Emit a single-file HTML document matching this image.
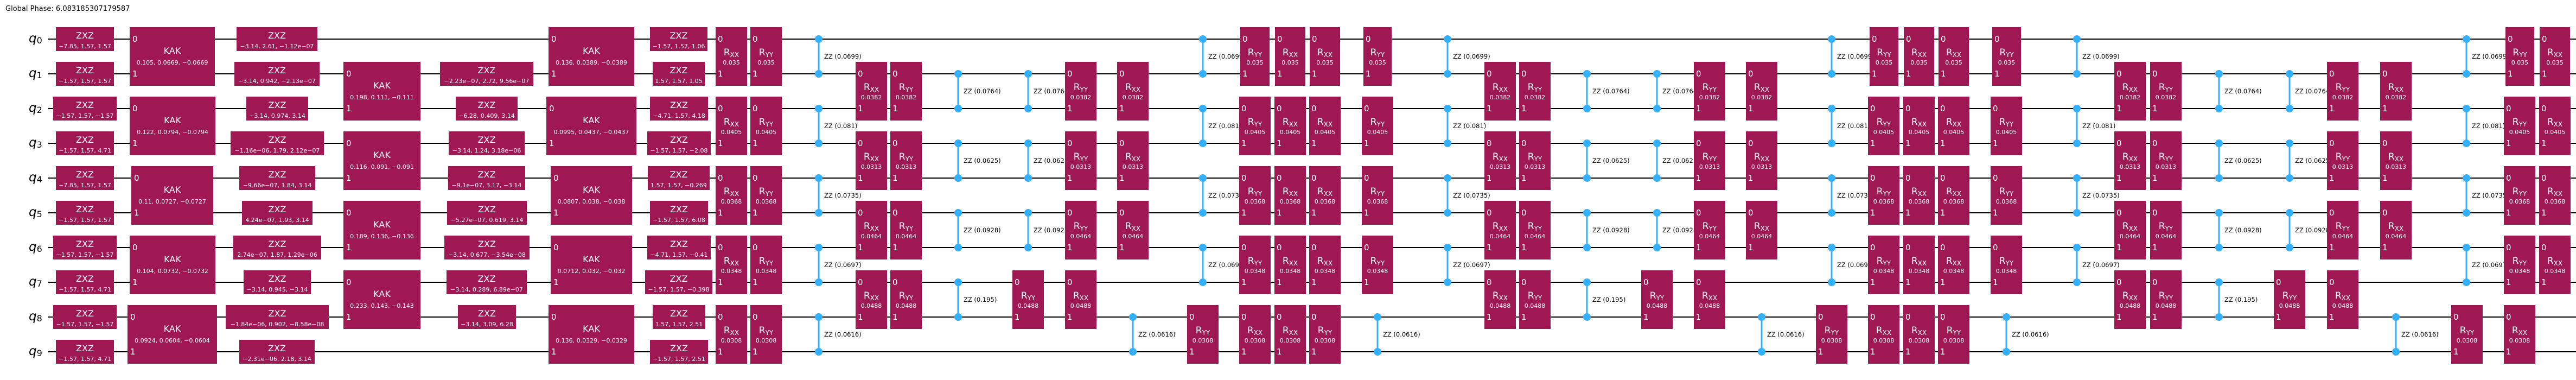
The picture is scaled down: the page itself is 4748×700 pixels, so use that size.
<!DOCTYPE html>
<html><head><meta charset="utf-8"><style>
html,body{margin:0;padding:0;background:#fff}
svg{display:block}
text{font-family:"DejaVu Sans","Liberation Sans",sans-serif;fill:#fff}
.b{fill:#9f1853}
.n{font-size:15px}
.l{font-size:17px;text-anchor:middle}
.s{font-size:12px}
.p{font-size:11px;text-anchor:middle}
.k{font-size:16px;text-anchor:middle}
.zl{fill:#000;font-size:11.5px}
.w{stroke:#000;stroke-width:2}
.zz{stroke:#33b1ff;stroke-width:3}
.zd{fill:#33b1ff}
.q{fill:#000;font-size:23px;font-style:italic}
.qs{font-size:16px;font-style:normal}
.gp{fill:#000;font-size:13px}
</style></head><body>
<svg width="4748" height="700" xmlns="http://www.w3.org/2000/svg">
<text class="gp" x="10" y="20">Global Phase: 6.083185307179587</text>
<g>
<line class="w" x1="89" y1="72" x2="4748" y2="72"/>
<line class="w" x1="89" y1="136" x2="4748" y2="136"/>
<line class="w" x1="89" y1="200" x2="4748" y2="200"/>
<line class="w" x1="89" y1="264" x2="4748" y2="264"/>
<line class="w" x1="89" y1="328" x2="4748" y2="328"/>
<line class="w" x1="89" y1="392" x2="4748" y2="392"/>
<line class="w" x1="89" y1="456" x2="4748" y2="456"/>
<line class="w" x1="89" y1="520" x2="4748" y2="520"/>
<line class="w" x1="89" y1="584" x2="4748" y2="584"/>
<line class="w" x1="89" y1="648" x2="4748" y2="648"/>
</g>
<text class="q" x="53" y="78">q<tspan class="qs" dy="2">0</tspan></text>
<text class="q" x="53" y="142">q<tspan class="qs" dy="2">1</tspan></text>
<text class="q" x="53" y="206">q<tspan class="qs" dy="2">2</tspan></text>
<text class="q" x="53" y="270">q<tspan class="qs" dy="2">3</tspan></text>
<text class="q" x="53" y="334">q<tspan class="qs" dy="2">4</tspan></text>
<text class="q" x="53" y="398">q<tspan class="qs" dy="2">5</tspan></text>
<text class="q" x="53" y="462">q<tspan class="qs" dy="2">6</tspan></text>
<text class="q" x="53" y="526">q<tspan class="qs" dy="2">7</tspan></text>
<text class="q" x="53" y="590">q<tspan class="qs" dy="2">8</tspan></text>
<text class="q" x="53" y="654">q<tspan class="qs" dy="2">9</tspan></text>

<!-- ZXZ layer 1 -->
<g transform="translate(103,50)"><rect class="b" width="107" height="44"/><text class="k" x="53.5" y="21">ZXZ</text><text class="p" x="53.5" y="39">−7.85, 1.57, 1.57</text></g>
<g transform="translate(103,114)"><rect class="b" width="107" height="44"/><text class="k" x="53.5" y="21">ZXZ</text><text class="p" x="53.5" y="39">−1.57, 1.57, 1.57</text></g>
<g transform="translate(98,178)"><rect class="b" width="117" height="44"/><text class="k" x="58.5" y="21">ZXZ</text><text class="p" x="58.5" y="39">−1.57, 1.57, −1.57</text></g>
<g transform="translate(103,242)"><rect class="b" width="107" height="44"/><text class="k" x="53.5" y="21">ZXZ</text><text class="p" x="53.5" y="39">−1.57, 1.57, 4.71</text></g>
<g transform="translate(103,306)"><rect class="b" width="107" height="44"/><text class="k" x="53.5" y="21">ZXZ</text><text class="p" x="53.5" y="39">−7.85, 1.57, 1.57</text></g>
<g transform="translate(103,370)"><rect class="b" width="107" height="44"/><text class="k" x="53.5" y="21">ZXZ</text><text class="p" x="53.5" y="39">−1.57, 1.57, 1.57</text></g>
<g transform="translate(98,434)"><rect class="b" width="117" height="44"/><text class="k" x="58.5" y="21">ZXZ</text><text class="p" x="58.5" y="39">−1.57, 1.57, −1.57</text></g>
<g transform="translate(103,498)"><rect class="b" width="107" height="44"/><text class="k" x="53.5" y="21">ZXZ</text><text class="p" x="53.5" y="39">−1.57, 1.57, 4.71</text></g>
<g transform="translate(98,562)"><rect class="b" width="117" height="44"/><text class="k" x="58.5" y="21">ZXZ</text><text class="p" x="58.5" y="39">−1.57, 1.57, −1.57</text></g>
<g transform="translate(103,626)"><rect class="b" width="107" height="44"/><text class="k" x="53.5" y="21">ZXZ</text><text class="p" x="53.5" y="39">−1.57, 1.57, 4.71</text></g>

<!-- KAK1 -->
<g transform="translate(239,50)"><rect class="b" width="157" height="108"/><text class="n" x="5" y="27">0</text><text class="n" x="5" y="91">1</text><text class="k" x="78.5" y="49">KAK</text><text class="p" x="78.5" y="69">0.105, 0.0669, −0.0669</text></g>
<g transform="translate(239,178)"><rect class="b" width="158" height="108"/><text class="n" x="5" y="27">0</text><text class="n" x="5" y="91">1</text><text class="k" x="79" y="49">KAK</text><text class="p" x="79" y="69">0.122, 0.0794, −0.0794</text></g>
<g transform="translate(242,306)"><rect class="b" width="151" height="108"/><text class="n" x="5" y="27">0</text><text class="n" x="5" y="91">1</text><text class="k" x="75.5" y="49">KAK</text><text class="p" x="75.5" y="69">0.11, 0.0727, −0.0727</text></g>
<g transform="translate(239,434)"><rect class="b" width="158" height="108"/><text class="n" x="5" y="27">0</text><text class="n" x="5" y="91">1</text><text class="k" x="79" y="49">KAK</text><text class="p" x="79" y="69">0.104, 0.0732, −0.0732</text></g>
<g transform="translate(235,562)"><rect class="b" width="165" height="108"/><text class="n" x="5" y="27">0</text><text class="n" x="5" y="91">1</text><text class="k" x="82.5" y="49">KAK</text><text class="p" x="82.5" y="69">0.0924, 0.0604, −0.0604</text></g>

<!-- ZXZ layer 2 -->
<g transform="translate(436,50)"><rect class="b" width="149" height="44"/><text class="k" x="74.5" y="21">ZXZ</text><text class="p" x="74.5" y="39">−3.14, 2.61, −1.12e−07</text></g>
<g transform="translate(432,114)"><rect class="b" width="157" height="44"/><text class="k" x="78.5" y="21">ZXZ</text><text class="p" x="78.5" y="39">−3.14, 0.942, −2.13e−07</text></g>
<g transform="translate(454,178)"><rect class="b" width="114" height="44"/><text class="k" x="57" y="21">ZXZ</text><text class="p" x="57" y="39">−3.14, 0.974, 3.14</text></g>
<g transform="translate(425,242)"><rect class="b" width="172" height="44"/><text class="k" x="86" y="21">ZXZ</text><text class="p" x="86" y="39">−1.16e−06, 1.79, 2.12e−07</text></g>
<g transform="translate(441,306)"><rect class="b" width="140" height="44"/><text class="k" x="70" y="21">ZXZ</text><text class="p" x="70" y="39">−9.66e−07, 1.84, 3.14</text></g>
<g transform="translate(446,370)"><rect class="b" width="130" height="44"/><text class="k" x="65" y="21">ZXZ</text><text class="p" x="65" y="39">4.24e−07, 1.93, 3.14</text></g>
<g transform="translate(430,434)"><rect class="b" width="162" height="44"/><text class="k" x="81" y="21">ZXZ</text><text class="p" x="81" y="39">2.74e−07, 1.87, 1.29e−06</text></g>
<g transform="translate(449,498)"><rect class="b" width="124" height="44"/><text class="k" x="62" y="21">ZXZ</text><text class="p" x="62" y="39">−3.14, 0.945, −3.14</text></g>
<g transform="translate(416,562)"><rect class="b" width="190" height="44"/><text class="k" x="95" y="21">ZXZ</text><text class="p" x="95" y="39">−1.84e−06, 0.902, −8.58e−08</text></g>
<g transform="translate(441,626)"><rect class="b" width="139" height="44"/><text class="k" x="69.5" y="21">ZXZ</text><text class="p" x="69.5" y="39">−2.31e−06, 2.18, 3.14</text></g>

<!-- KAK2 -->
<g transform="translate(633,114)"><rect class="b" width="142" height="108"/><text class="n" x="5" y="27">0</text><text class="n" x="5" y="91">1</text><text class="k" x="71" y="49">KAK</text><text class="p" x="71" y="69">0.198, 0.111, −0.111</text></g>
<g transform="translate(633,242)"><rect class="b" width="142" height="108"/><text class="n" x="5" y="27">0</text><text class="n" x="5" y="91">1</text><text class="k" x="71" y="49">KAK</text><text class="p" x="71" y="69">0.116, 0.091, −0.091</text></g>
<g transform="translate(633,370)"><rect class="b" width="142" height="108"/><text class="n" x="5" y="27">0</text><text class="n" x="5" y="91">1</text><text class="k" x="71" y="49">KAK</text><text class="p" x="71" y="69">0.189, 0.136, −0.136</text></g>
<g transform="translate(633,498)"><rect class="b" width="142" height="108"/><text class="n" x="5" y="27">0</text><text class="n" x="5" y="91">1</text><text class="k" x="71" y="49">KAK</text><text class="p" x="71" y="69">0.233, 0.143, −0.143</text></g>

<!-- ZXZ layer 3 -->
<g transform="translate(811,114)"><rect class="b" width="172" height="44"/><text class="k" x="86" y="21">ZXZ</text><text class="p" x="86" y="39">−2.23e−07, 2.72, 9.56e−07</text></g>
<g transform="translate(840,178)"><rect class="b" width="114" height="44"/><text class="k" x="57" y="21">ZXZ</text><text class="p" x="57" y="39">−6.28, 0.409, 3.14</text></g>
<g transform="translate(827,242)"><rect class="b" width="140" height="44"/><text class="k" x="70" y="21">ZXZ</text><text class="p" x="70" y="39">−3.14, 1.24, 3.18e−06</text></g>
<g transform="translate(826,306)"><rect class="b" width="142" height="44"/><text class="k" x="71" y="21">ZXZ</text><text class="p" x="71" y="39">−9.1e−07, 3.17, −3.14</text></g>
<g transform="translate(824,370)"><rect class="b" width="147" height="44"/><text class="k" x="73.5" y="21">ZXZ</text><text class="p" x="73.5" y="39">−5.27e−07, 0.619, 3.14</text></g>
<g transform="translate(819,434)"><rect class="b" width="157" height="44"/><text class="k" x="78.5" y="21">ZXZ</text><text class="p" x="78.5" y="39">−3.14, 0.677, −3.54e−08</text></g>
<g transform="translate(823,498)"><rect class="b" width="148" height="44"/><text class="k" x="74" y="21">ZXZ</text><text class="p" x="74" y="39">−3.14, 0.289, 6.89e−07</text></g>
<g transform="translate(844,562)"><rect class="b" width="107" height="44"/><text class="k" x="53.5" y="21">ZXZ</text><text class="p" x="53.5" y="39">−3.14, 3.09, 6.28</text></g>

<!-- KAK3 -->
<g transform="translate(1011,50)"><rect class="b" width="158" height="108"/><text class="n" x="5" y="27">0</text><text class="n" x="5" y="91">1</text><text class="k" x="79" y="49">KAK</text><text class="p" x="79" y="69">0.136, 0.0389, −0.0389</text></g>
<g transform="translate(1007,178)"><rect class="b" width="166" height="108"/><text class="n" x="5" y="27">0</text><text class="n" x="5" y="91">1</text><text class="k" x="83" y="49">KAK</text><text class="p" x="83" y="69">0.0995, 0.0437, −0.0437</text></g>
<g transform="translate(1015,306)"><rect class="b" width="150" height="108"/><text class="n" x="5" y="27">0</text><text class="n" x="5" y="91">1</text><text class="k" x="75" y="49">KAK</text><text class="p" x="75" y="69">0.0807, 0.038, −0.038</text></g>
<g transform="translate(1015,434)"><rect class="b" width="150" height="108"/><text class="n" x="5" y="27">0</text><text class="n" x="5" y="91">1</text><text class="k" x="75" y="49">KAK</text><text class="p" x="75" y="69">0.0712, 0.032, −0.032</text></g>
<g transform="translate(1011,562)"><rect class="b" width="158" height="108"/><text class="n" x="5" y="27">0</text><text class="n" x="5" y="91">1</text><text class="k" x="79" y="49">KAK</text><text class="p" x="79" y="69">0.136, 0.0329, −0.0329</text></g>

<!-- ZXZ layer 4 -->
<g transform="translate(1198,50)"><rect class="b" width="106" height="44"/><text class="k" x="53" y="21">ZXZ</text><text class="p" x="53" y="39">−1.57, 1.57, 1.06</text></g>
<g transform="translate(1203,114)"><rect class="b" width="96" height="44"/><text class="k" x="48" y="21">ZXZ</text><text class="p" x="48" y="39">1.57, 1.57, 1.05</text></g>
<g transform="translate(1198,178)"><rect class="b" width="107" height="44"/><text class="k" x="53.5" y="21">ZXZ</text><text class="p" x="53.5" y="39">−4.71, 1.57, 4.18</text></g>
<g transform="translate(1193,242)"><rect class="b" width="117" height="44"/><text class="k" x="58.5" y="21">ZXZ</text><text class="p" x="58.5" y="39">−1.57, 1.57, −2.08</text></g>
<g transform="translate(1194,306)"><rect class="b" width="114" height="44"/><text class="k" x="57" y="21">ZXZ</text><text class="p" x="57" y="39">1.57, 1.57, −0.269</text></g>
<g transform="translate(1198,370)"><rect class="b" width="107" height="44"/><text class="k" x="53.5" y="21">ZXZ</text><text class="p" x="53.5" y="39">−1.57, 1.57, 6.08</text></g>
<g transform="translate(1193,434)"><rect class="b" width="117" height="44"/><text class="k" x="58.5" y="21">ZXZ</text><text class="p" x="58.5" y="39">−4.71, 1.57, −0.41</text></g>
<g transform="translate(1189,498)"><rect class="b" width="124" height="44"/><text class="k" x="62" y="21">ZXZ</text><text class="p" x="62" y="39">−1.57, 1.57, −0.398</text></g>
<g transform="translate(1203,562)"><rect class="b" width="97" height="44"/><text class="k" x="48.5" y="21">ZXZ</text><text class="p" x="48.5" y="39">1.57, 1.57, 2.51</text></g>
<g transform="translate(1198,626)"><rect class="b" width="107" height="44"/><text class="k" x="53.5" y="21">ZXZ</text><text class="p" x="53.5" y="39">−1.57, 1.57, 2.51</text></g>

<!-- ===== Trotter section ===== -->
<!-- col 1348 Rxx E -->
<g transform="translate(1319,50)"><rect class="b" width="58" height="108"/><text class="n" x="4" y="27">0</text><text class="n" x="4" y="91">1</text><text class="l" x="29" y="52">R<tspan class="s" dy="3">XX</tspan></text><text class="p" x="29" y="69">0.035</text></g>
<g transform="translate(1319,178)"><rect class="b" width="58" height="108"/><text class="n" x="4" y="27">0</text><text class="n" x="4" y="91">1</text><text class="l" x="29" y="52">R<tspan class="s" dy="3">XX</tspan></text><text class="p" x="29" y="69">0.0405</text></g>
<g transform="translate(1319,306)"><rect class="b" width="58" height="108"/><text class="n" x="4" y="27">0</text><text class="n" x="4" y="91">1</text><text class="l" x="29" y="52">R<tspan class="s" dy="3">XX</tspan></text><text class="p" x="29" y="69">0.0368</text></g>
<g transform="translate(1319,434)"><rect class="b" width="58" height="108"/><text class="n" x="4" y="27">0</text><text class="n" x="4" y="91">1</text><text class="l" x="29" y="52">R<tspan class="s" dy="3">XX</tspan></text><text class="p" x="29" y="69">0.0348</text></g>
<g transform="translate(1319,562)"><rect class="b" width="58" height="108"/><text class="n" x="4" y="27">0</text><text class="n" x="4" y="91">1</text><text class="l" x="29" y="52">R<tspan class="s" dy="3">XX</tspan></text><text class="p" x="29" y="69">0.0308</text></g>
<!-- col 1412 Ryy E -->
<g transform="translate(1383,50)"><rect class="b" width="58" height="108"/><text class="n" x="4" y="27">0</text><text class="n" x="4" y="91">1</text><text class="l" x="29" y="52">R<tspan class="s" dy="3">YY</tspan></text><text class="p" x="29" y="69">0.035</text></g>
<g transform="translate(1383,178)"><rect class="b" width="58" height="108"/><text class="n" x="4" y="27">0</text><text class="n" x="4" y="91">1</text><text class="l" x="29" y="52">R<tspan class="s" dy="3">YY</tspan></text><text class="p" x="29" y="69">0.0405</text></g>
<g transform="translate(1383,306)"><rect class="b" width="58" height="108"/><text class="n" x="4" y="27">0</text><text class="n" x="4" y="91">1</text><text class="l" x="29" y="52">R<tspan class="s" dy="3">YY</tspan></text><text class="p" x="29" y="69">0.0368</text></g>
<g transform="translate(1383,434)"><rect class="b" width="58" height="108"/><text class="n" x="4" y="27">0</text><text class="n" x="4" y="91">1</text><text class="l" x="29" y="52">R<tspan class="s" dy="3">YY</tspan></text><text class="p" x="29" y="69">0.0348</text></g>
<g transform="translate(1383,562)"><rect class="b" width="58" height="108"/><text class="n" x="4" y="27">0</text><text class="n" x="4" y="91">1</text><text class="l" x="29" y="52">R<tspan class="s" dy="3">YY</tspan></text><text class="p" x="29" y="69">0.0308</text></g>
<!-- col 1509 ZZ E -->
<line class="zz" x1="1509" y1="72" x2="1509" y2="136"/><circle class="zd" cx="1509" cy="72" r="7"/><circle class="zd" cx="1509" cy="136" r="7"/><text class="zl" x="1519" y="108">ZZ (0.0699)</text>
<line class="zz" x1="1509" y1="200" x2="1509" y2="264"/><circle class="zd" cx="1509" cy="200" r="7"/><circle class="zd" cx="1509" cy="264" r="7"/><text class="zl" x="1519" y="236">ZZ (0.081)</text>
<line class="zz" x1="1509" y1="328" x2="1509" y2="392"/><circle class="zd" cx="1509" cy="328" r="7"/><circle class="zd" cx="1509" cy="392" r="7"/><text class="zl" x="1519" y="364">ZZ (0.0735)</text>
<line class="zz" x1="1509" y1="456" x2="1509" y2="520"/><circle class="zd" cx="1509" cy="456" r="7"/><circle class="zd" cx="1509" cy="520" r="7"/><text class="zl" x="1519" y="492">ZZ (0.0697)</text>
<line class="zz" x1="1509" y1="584" x2="1509" y2="648"/><circle class="zd" cx="1509" cy="584" r="7"/><circle class="zd" cx="1509" cy="648" r="7"/><text class="zl" x="1519" y="620">ZZ (0.0616)</text>
<!-- col 1605 Rxx O -->
<g transform="translate(1577,114)"><rect class="b" width="58" height="108"/><text class="n" x="4" y="27">0</text><text class="n" x="4" y="91">1</text><text class="l" x="29" y="52">R<tspan class="s" dy="3">XX</tspan></text><text class="p" x="29" y="69">0.0382</text></g>
<g transform="translate(1577,242)"><rect class="b" width="58" height="108"/><text class="n" x="4" y="27">0</text><text class="n" x="4" y="91">1</text><text class="l" x="29" y="52">R<tspan class="s" dy="3">XX</tspan></text><text class="p" x="29" y="69">0.0313</text></g>
<g transform="translate(1577,370)"><rect class="b" width="58" height="108"/><text class="n" x="4" y="27">0</text><text class="n" x="4" y="91">1</text><text class="l" x="29" y="52">R<tspan class="s" dy="3">XX</tspan></text><text class="p" x="29" y="69">0.0464</text></g>
<g transform="translate(1577,498)"><rect class="b" width="58" height="108"/><text class="n" x="4" y="27">0</text><text class="n" x="4" y="91">1</text><text class="l" x="29" y="52">R<tspan class="s" dy="3">XX</tspan></text><text class="p" x="29" y="69">0.0488</text></g>
<!-- col 1670 Ryy O -->
<g transform="translate(1641,114)"><rect class="b" width="58" height="108"/><text class="n" x="4" y="27">0</text><text class="n" x="4" y="91">1</text><text class="l" x="29" y="52">R<tspan class="s" dy="3">YY</tspan></text><text class="p" x="29" y="69">0.0382</text></g>
<g transform="translate(1641,242)"><rect class="b" width="58" height="108"/><text class="n" x="4" y="27">0</text><text class="n" x="4" y="91">1</text><text class="l" x="29" y="52">R<tspan class="s" dy="3">YY</tspan></text><text class="p" x="29" y="69">0.0313</text></g>
<g transform="translate(1641,370)"><rect class="b" width="58" height="108"/><text class="n" x="4" y="27">0</text><text class="n" x="4" y="91">1</text><text class="l" x="29" y="52">R<tspan class="s" dy="3">YY</tspan></text><text class="p" x="29" y="69">0.0464</text></g>
<g transform="translate(1641,498)"><rect class="b" width="58" height="108"/><text class="n" x="4" y="27">0</text><text class="n" x="4" y="91">1</text><text class="l" x="29" y="52">R<tspan class="s" dy="3">YY</tspan></text><text class="p" x="29" y="69">0.0488</text></g>
<!-- col 1766 ZZ O -->
<line class="zz" x1="1766" y1="136" x2="1766" y2="200"/><circle class="zd" cx="1766" cy="136" r="7"/><circle class="zd" cx="1766" cy="200" r="7"/><text class="zl" x="1776" y="172">ZZ (0.0764)</text>
<line class="zz" x1="1766" y1="264" x2="1766" y2="328"/><circle class="zd" cx="1766" cy="264" r="7"/><circle class="zd" cx="1766" cy="328" r="7"/><text class="zl" x="1776" y="300">ZZ (0.0625)</text>
<line class="zz" x1="1766" y1="392" x2="1766" y2="456"/><circle class="zd" cx="1766" cy="392" r="7"/><circle class="zd" cx="1766" cy="456" r="7"/><text class="zl" x="1776" y="428">ZZ (0.0928)</text>
<line class="zz" x1="1766" y1="520" x2="1766" y2="584"/><circle class="zd" cx="1766" cy="520" r="7"/><circle class="zd" cx="1766" cy="584" r="7"/><text class="zl" x="1776" y="556">ZZ (0.195)</text>
<!-- col 1895 -->
<line class="zz" x1="1895" y1="136" x2="1895" y2="200"/><circle class="zd" cx="1895" cy="136" r="7"/><circle class="zd" cx="1895" cy="200" r="7"/><text class="zl" x="1905" y="172">ZZ (0.0764)</text>
<line class="zz" x1="1895" y1="264" x2="1895" y2="328"/><circle class="zd" cx="1895" cy="264" r="7"/><circle class="zd" cx="1895" cy="328" r="7"/><text class="zl" x="1905" y="300">ZZ (0.0625)</text>
<line class="zz" x1="1895" y1="392" x2="1895" y2="456"/><circle class="zd" cx="1895" cy="392" r="7"/><circle class="zd" cx="1895" cy="456" r="7"/><text class="zl" x="1905" y="428">ZZ (0.0928)</text>
<g transform="translate(1866,498)"><rect class="b" width="58" height="108"/><text class="n" x="4" y="27">0</text><text class="n" x="4" y="91">1</text><text class="l" x="29" y="52">R<tspan class="s" dy="3">YY</tspan></text><text class="p" x="29" y="69">0.0488</text></g>
<!-- col 1992 -->
<g transform="translate(1963,114)"><rect class="b" width="58" height="108"/><text class="n" x="4" y="27">0</text><text class="n" x="4" y="91">1</text><text class="l" x="29" y="52">R<tspan class="s" dy="3">YY</tspan></text><text class="p" x="29" y="69">0.0382</text></g>
<g transform="translate(1963,242)"><rect class="b" width="58" height="108"/><text class="n" x="4" y="27">0</text><text class="n" x="4" y="91">1</text><text class="l" x="29" y="52">R<tspan class="s" dy="3">YY</tspan></text><text class="p" x="29" y="69">0.0313</text></g>
<g transform="translate(1963,370)"><rect class="b" width="58" height="108"/><text class="n" x="4" y="27">0</text><text class="n" x="4" y="91">1</text><text class="l" x="29" y="52">R<tspan class="s" dy="3">YY</tspan></text><text class="p" x="29" y="69">0.0464</text></g>
<g transform="translate(1963,498)"><rect class="b" width="58" height="108"/><text class="n" x="4" y="27">0</text><text class="n" x="4" y="91">1</text><text class="l" x="29" y="52">R<tspan class="s" dy="3">XX</tspan></text><text class="p" x="29" y="69">0.0488</text></g>
<!-- col 2088 -->
<g transform="translate(2059,114)"><rect class="b" width="58" height="108"/><text class="n" x="4" y="27">0</text><text class="n" x="4" y="91">1</text><text class="l" x="29" y="52">R<tspan class="s" dy="3">XX</tspan></text><text class="p" x="29" y="69">0.0382</text></g>
<g transform="translate(2059,242)"><rect class="b" width="58" height="108"/><text class="n" x="4" y="27">0</text><text class="n" x="4" y="91">1</text><text class="l" x="29" y="52">R<tspan class="s" dy="3">XX</tspan></text><text class="p" x="29" y="69">0.0313</text></g>
<g transform="translate(2059,370)"><rect class="b" width="58" height="108"/><text class="n" x="4" y="27">0</text><text class="n" x="4" y="91">1</text><text class="l" x="29" y="52">R<tspan class="s" dy="3">XX</tspan></text><text class="p" x="29" y="69">0.0464</text></g>
<line class="zz" x1="2088" y1="584" x2="2088" y2="648"/><circle class="zd" cx="2088" cy="584" r="7"/><circle class="zd" cx="2088" cy="648" r="7"/><text class="zl" x="2098" y="620">ZZ (0.0616)</text>
<!-- col 2217 -->
<line class="zz" x1="2217" y1="72" x2="2217" y2="136"/><circle class="zd" cx="2217" cy="72" r="7"/><circle class="zd" cx="2217" cy="136" r="7"/><text class="zl" x="2227" y="108">ZZ (0.0699)</text>
<line class="zz" x1="2217" y1="200" x2="2217" y2="264"/><circle class="zd" cx="2217" cy="200" r="7"/><circle class="zd" cx="2217" cy="264" r="7"/><text class="zl" x="2227" y="236">ZZ (0.081)</text>
<line class="zz" x1="2217" y1="328" x2="2217" y2="392"/><circle class="zd" cx="2217" cy="328" r="7"/><circle class="zd" cx="2217" cy="392" r="7"/><text class="zl" x="2227" y="364">ZZ (0.0735)</text>
<line class="zz" x1="2217" y1="456" x2="2217" y2="520"/><circle class="zd" cx="2217" cy="456" r="7"/><circle class="zd" cx="2217" cy="520" r="7"/><text class="zl" x="2227" y="492">ZZ (0.0697)</text>
<g transform="translate(2188,562)"><rect class="b" width="58" height="108"/><text class="n" x="4" y="27">0</text><text class="n" x="4" y="91">1</text><text class="l" x="29" y="52">R<tspan class="s" dy="3">YY</tspan></text><text class="p" x="29" y="69">0.0308</text></g>
<!-- col 2313 -->
<g transform="translate(2286,50)"><rect class="b" width="54" height="108"/><text class="n" x="4" y="27">0</text><text class="n" x="4" y="91">1</text><text class="l" x="27" y="52">R<tspan class="s" dy="3">YY</tspan></text><text class="p" x="27" y="69">0.035</text></g>
<g transform="translate(2284,178)"><rect class="b" width="58" height="108"/><text class="n" x="4" y="27">0</text><text class="n" x="4" y="91">1</text><text class="l" x="29" y="52">R<tspan class="s" dy="3">YY</tspan></text><text class="p" x="29" y="69">0.0405</text></g>
<g transform="translate(2284,306)"><rect class="b" width="58" height="108"/><text class="n" x="4" y="27">0</text><text class="n" x="4" y="91">1</text><text class="l" x="29" y="52">R<tspan class="s" dy="3">YY</tspan></text><text class="p" x="29" y="69">0.0368</text></g>
<g transform="translate(2284,434)"><rect class="b" width="58" height="108"/><text class="n" x="4" y="27">0</text><text class="n" x="4" y="91">1</text><text class="l" x="29" y="52">R<tspan class="s" dy="3">YY</tspan></text><text class="p" x="29" y="69">0.0348</text></g>
<g transform="translate(2284,562)"><rect class="b" width="58" height="108"/><text class="n" x="4" y="27">0</text><text class="n" x="4" y="91">1</text><text class="l" x="29" y="52">R<tspan class="s" dy="3">XX</tspan></text><text class="p" x="29" y="69">0.0308</text></g>
<!-- col 2378 -->
<g transform="translate(2350,50)"><rect class="b" width="56" height="108"/><text class="n" x="4" y="27">0</text><text class="n" x="4" y="91">1</text><text class="l" x="28" y="52">R<tspan class="s" dy="3">XX</tspan></text><text class="p" x="28" y="69">0.035</text></g>
<g transform="translate(2349,178)"><rect class="b" width="58" height="108"/><text class="n" x="4" y="27">0</text><text class="n" x="4" y="91">1</text><text class="l" x="29" y="52">R<tspan class="s" dy="3">XX</tspan></text><text class="p" x="29" y="69">0.0405</text></g>
<g transform="translate(2349,306)"><rect class="b" width="58" height="108"/><text class="n" x="4" y="27">0</text><text class="n" x="4" y="91">1</text><text class="l" x="29" y="52">R<tspan class="s" dy="3">XX</tspan></text><text class="p" x="29" y="69">0.0368</text></g>
<g transform="translate(2349,434)"><rect class="b" width="58" height="108"/><text class="n" x="4" y="27">0</text><text class="n" x="4" y="91">1</text><text class="l" x="29" y="52">R<tspan class="s" dy="3">XX</tspan></text><text class="p" x="29" y="69">0.0348</text></g>
<g transform="translate(2349,562)"><rect class="b" width="58" height="108"/><text class="n" x="4" y="27">0</text><text class="n" x="4" y="91">1</text><text class="l" x="29" y="52">R<tspan class="s" dy="3">XX</tspan></text><text class="p" x="29" y="69">0.0308</text></g>
<!-- col 2442 -->
<g transform="translate(2414,50)"><rect class="b" width="56" height="108"/><text class="n" x="4" y="27">0</text><text class="n" x="4" y="91">1</text><text class="l" x="28" y="52">R<tspan class="s" dy="3">XX</tspan></text><text class="p" x="28" y="69">0.035</text></g>
<g transform="translate(2413,178)"><rect class="b" width="58" height="108"/><text class="n" x="4" y="27">0</text><text class="n" x="4" y="91">1</text><text class="l" x="29" y="52">R<tspan class="s" dy="3">XX</tspan></text><text class="p" x="29" y="69">0.0405</text></g>
<g transform="translate(2413,306)"><rect class="b" width="58" height="108"/><text class="n" x="4" y="27">0</text><text class="n" x="4" y="91">1</text><text class="l" x="29" y="52">R<tspan class="s" dy="3">XX</tspan></text><text class="p" x="29" y="69">0.0368</text></g>
<g transform="translate(2413,434)"><rect class="b" width="58" height="108"/><text class="n" x="4" y="27">0</text><text class="n" x="4" y="91">1</text><text class="l" x="29" y="52">R<tspan class="s" dy="3">XX</tspan></text><text class="p" x="29" y="69">0.0348</text></g>
<g transform="translate(2413,562)"><rect class="b" width="58" height="108"/><text class="n" x="4" y="27">0</text><text class="n" x="4" y="91">1</text><text class="l" x="29" y="52">R<tspan class="s" dy="3">YY</tspan></text><text class="p" x="29" y="69">0.0308</text></g>
<!-- col 2539 -->
<g transform="translate(2513,50)"><rect class="b" width="52" height="108"/><text class="n" x="4" y="27">0</text><text class="n" x="4" y="91">1</text><text class="l" x="26" y="52">R<tspan class="s" dy="3">YY</tspan></text><text class="p" x="26" y="69">0.035</text></g>
<g transform="translate(2510,178)"><rect class="b" width="58" height="108"/><text class="n" x="4" y="27">0</text><text class="n" x="4" y="91">1</text><text class="l" x="29" y="52">R<tspan class="s" dy="3">YY</tspan></text><text class="p" x="29" y="69">0.0405</text></g>
<g transform="translate(2510,306)"><rect class="b" width="58" height="108"/><text class="n" x="4" y="27">0</text><text class="n" x="4" y="91">1</text><text class="l" x="29" y="52">R<tspan class="s" dy="3">YY</tspan></text><text class="p" x="29" y="69">0.0368</text></g>
<g transform="translate(2510,434)"><rect class="b" width="58" height="108"/><text class="n" x="4" y="27">0</text><text class="n" x="4" y="91">1</text><text class="l" x="29" y="52">R<tspan class="s" dy="3">YY</tspan></text><text class="p" x="29" y="69">0.0348</text></g>
<line class="zz" x1="2539" y1="584" x2="2539" y2="648"/><circle class="zd" cx="2539" cy="584" r="7"/><circle class="zd" cx="2539" cy="648" r="7"/><text class="zl" x="2549" y="620">ZZ (0.0616)</text>
<!-- col 2668 -->
<line class="zz" x1="2668" y1="72" x2="2668" y2="136"/><circle class="zd" cx="2668" cy="72" r="7"/><circle class="zd" cx="2668" cy="136" r="7"/><text class="zl" x="2678" y="108">ZZ (0.0699)</text>
<line class="zz" x1="2668" y1="200" x2="2668" y2="264"/><circle class="zd" cx="2668" cy="200" r="7"/><circle class="zd" cx="2668" cy="264" r="7"/><text class="zl" x="2678" y="236">ZZ (0.081)</text>
<line class="zz" x1="2668" y1="328" x2="2668" y2="392"/><circle class="zd" cx="2668" cy="328" r="7"/><circle class="zd" cx="2668" cy="392" r="7"/><text class="zl" x="2678" y="364">ZZ (0.0735)</text>
<line class="zz" x1="2668" y1="456" x2="2668" y2="520"/><circle class="zd" cx="2668" cy="456" r="7"/><circle class="zd" cx="2668" cy="520" r="7"/><text class="zl" x="2678" y="492">ZZ (0.0697)</text>
<!-- col 2765 -->
<g transform="translate(2736,114)"><rect class="b" width="58" height="108"/><text class="n" x="4" y="27">0</text><text class="n" x="4" y="91">1</text><text class="l" x="29" y="52">R<tspan class="s" dy="3">XX</tspan></text><text class="p" x="29" y="69">0.0382</text></g>
<g transform="translate(2736,242)"><rect class="b" width="58" height="108"/><text class="n" x="4" y="27">0</text><text class="n" x="4" y="91">1</text><text class="l" x="29" y="52">R<tspan class="s" dy="3">XX</tspan></text><text class="p" x="29" y="69">0.0313</text></g>
<g transform="translate(2736,370)"><rect class="b" width="58" height="108"/><text class="n" x="4" y="27">0</text><text class="n" x="4" y="91">1</text><text class="l" x="29" y="52">R<tspan class="s" dy="3">XX</tspan></text><text class="p" x="29" y="69">0.0464</text></g>
<g transform="translate(2736,498)"><rect class="b" width="58" height="108"/><text class="n" x="4" y="27">0</text><text class="n" x="4" y="91">1</text><text class="l" x="29" y="52">R<tspan class="s" dy="3">XX</tspan></text><text class="p" x="29" y="69">0.0488</text></g>
<!-- col 2829 -->
<g transform="translate(2800,114)"><rect class="b" width="58" height="108"/><text class="n" x="4" y="27">0</text><text class="n" x="4" y="91">1</text><text class="l" x="29" y="52">R<tspan class="s" dy="3">YY</tspan></text><text class="p" x="29" y="69">0.0382</text></g>
<g transform="translate(2800,242)"><rect class="b" width="58" height="108"/><text class="n" x="4" y="27">0</text><text class="n" x="4" y="91">1</text><text class="l" x="29" y="52">R<tspan class="s" dy="3">YY</tspan></text><text class="p" x="29" y="69">0.0313</text></g>
<g transform="translate(2800,370)"><rect class="b" width="58" height="108"/><text class="n" x="4" y="27">0</text><text class="n" x="4" y="91">1</text><text class="l" x="29" y="52">R<tspan class="s" dy="3">YY</tspan></text><text class="p" x="29" y="69">0.0464</text></g>
<g transform="translate(2800,498)"><rect class="b" width="58" height="108"/><text class="n" x="4" y="27">0</text><text class="n" x="4" y="91">1</text><text class="l" x="29" y="52">R<tspan class="s" dy="3">YY</tspan></text><text class="p" x="29" y="69">0.0488</text></g>
<!-- col 2925 -->
<line class="zz" x1="2925" y1="136" x2="2925" y2="200"/><circle class="zd" cx="2925" cy="136" r="7"/><circle class="zd" cx="2925" cy="200" r="7"/><text class="zl" x="2935" y="172">ZZ (0.0764)</text>
<line class="zz" x1="2925" y1="264" x2="2925" y2="328"/><circle class="zd" cx="2925" cy="264" r="7"/><circle class="zd" cx="2925" cy="328" r="7"/><text class="zl" x="2935" y="300">ZZ (0.0625)</text>
<line class="zz" x1="2925" y1="392" x2="2925" y2="456"/><circle class="zd" cx="2925" cy="392" r="7"/><circle class="zd" cx="2925" cy="456" r="7"/><text class="zl" x="2935" y="428">ZZ (0.0928)</text>
<line class="zz" x1="2925" y1="520" x2="2925" y2="584"/><circle class="zd" cx="2925" cy="520" r="7"/><circle class="zd" cx="2925" cy="584" r="7"/><text class="zl" x="2935" y="556">ZZ (0.195)</text>
<!-- col 3054 -->
<line class="zz" x1="3054" y1="136" x2="3054" y2="200"/><circle class="zd" cx="3054" cy="136" r="7"/><circle class="zd" cx="3054" cy="200" r="7"/><text class="zl" x="3064" y="172">ZZ (0.0764)</text>
<line class="zz" x1="3054" y1="264" x2="3054" y2="328"/><circle class="zd" cx="3054" cy="264" r="7"/><circle class="zd" cx="3054" cy="328" r="7"/><text class="zl" x="3064" y="300">ZZ (0.0625)</text>
<line class="zz" x1="3054" y1="392" x2="3054" y2="456"/><circle class="zd" cx="3054" cy="392" r="7"/><circle class="zd" cx="3054" cy="456" r="7"/><text class="zl" x="3064" y="428">ZZ (0.0928)</text>
<g transform="translate(3025,498)"><rect class="b" width="58" height="108"/><text class="n" x="4" y="27">0</text><text class="n" x="4" y="91">1</text><text class="l" x="29" y="52">R<tspan class="s" dy="3">YY</tspan></text><text class="p" x="29" y="69">0.0488</text></g>
<!-- col 3151 -->
<g transform="translate(3122,114)"><rect class="b" width="58" height="108"/><text class="n" x="4" y="27">0</text><text class="n" x="4" y="91">1</text><text class="l" x="29" y="52">R<tspan class="s" dy="3">YY</tspan></text><text class="p" x="29" y="69">0.0382</text></g>
<g transform="translate(3122,242)"><rect class="b" width="58" height="108"/><text class="n" x="4" y="27">0</text><text class="n" x="4" y="91">1</text><text class="l" x="29" y="52">R<tspan class="s" dy="3">YY</tspan></text><text class="p" x="29" y="69">0.0313</text></g>
<g transform="translate(3122,370)"><rect class="b" width="58" height="108"/><text class="n" x="4" y="27">0</text><text class="n" x="4" y="91">1</text><text class="l" x="29" y="52">R<tspan class="s" dy="3">YY</tspan></text><text class="p" x="29" y="69">0.0464</text></g>
<g transform="translate(3122,498)"><rect class="b" width="58" height="108"/><text class="n" x="4" y="27">0</text><text class="n" x="4" y="91">1</text><text class="l" x="29" y="52">R<tspan class="s" dy="3">XX</tspan></text><text class="p" x="29" y="69">0.0488</text></g>
<!-- col 3247 -->
<g transform="translate(3218,114)"><rect class="b" width="58" height="108"/><text class="n" x="4" y="27">0</text><text class="n" x="4" y="91">1</text><text class="l" x="29" y="52">R<tspan class="s" dy="3">XX</tspan></text><text class="p" x="29" y="69">0.0382</text></g>
<g transform="translate(3218,242)"><rect class="b" width="58" height="108"/><text class="n" x="4" y="27">0</text><text class="n" x="4" y="91">1</text><text class="l" x="29" y="52">R<tspan class="s" dy="3">XX</tspan></text><text class="p" x="29" y="69">0.0313</text></g>
<g transform="translate(3218,370)"><rect class="b" width="58" height="108"/><text class="n" x="4" y="27">0</text><text class="n" x="4" y="91">1</text><text class="l" x="29" y="52">R<tspan class="s" dy="3">XX</tspan></text><text class="p" x="29" y="69">0.0464</text></g>
<line class="zz" x1="3247" y1="584" x2="3247" y2="648"/><circle class="zd" cx="3247" cy="584" r="7"/><circle class="zd" cx="3247" cy="648" r="7"/><text class="zl" x="3257" y="620">ZZ (0.0616)</text>
<!-- col 3376 -->
<line class="zz" x1="3376" y1="72" x2="3376" y2="136"/><circle class="zd" cx="3376" cy="72" r="7"/><circle class="zd" cx="3376" cy="136" r="7"/><text class="zl" x="3386" y="108">ZZ (0.0699)</text>
<line class="zz" x1="3376" y1="200" x2="3376" y2="264"/><circle class="zd" cx="3376" cy="200" r="7"/><circle class="zd" cx="3376" cy="264" r="7"/><text class="zl" x="3386" y="236">ZZ (0.081)</text>
<line class="zz" x1="3376" y1="328" x2="3376" y2="392"/><circle class="zd" cx="3376" cy="328" r="7"/><circle class="zd" cx="3376" cy="392" r="7"/><text class="zl" x="3386" y="364">ZZ (0.0735)</text>
<line class="zz" x1="3376" y1="456" x2="3376" y2="520"/><circle class="zd" cx="3376" cy="456" r="7"/><circle class="zd" cx="3376" cy="520" r="7"/><text class="zl" x="3386" y="492">ZZ (0.0697)</text>
<g transform="translate(3347,562)"><rect class="b" width="58" height="108"/><text class="n" x="4" y="27">0</text><text class="n" x="4" y="91">1</text><text class="l" x="29" y="52">R<tspan class="s" dy="3">YY</tspan></text><text class="p" x="29" y="69">0.0308</text></g>
<!-- col 3472 -->
<g transform="translate(3446,50)"><rect class="b" width="53" height="108"/><text class="n" x="4" y="27">0</text><text class="n" x="4" y="91">1</text><text class="l" x="26.5" y="52">R<tspan class="s" dy="3">YY</tspan></text><text class="p" x="26.5" y="69">0.035</text></g>
<g transform="translate(3443,178)"><rect class="b" width="58" height="108"/><text class="n" x="4" y="27">0</text><text class="n" x="4" y="91">1</text><text class="l" x="29" y="52">R<tspan class="s" dy="3">YY</tspan></text><text class="p" x="29" y="69">0.0405</text></g>
<g transform="translate(3443,306)"><rect class="b" width="58" height="108"/><text class="n" x="4" y="27">0</text><text class="n" x="4" y="91">1</text><text class="l" x="29" y="52">R<tspan class="s" dy="3">YY</tspan></text><text class="p" x="29" y="69">0.0368</text></g>
<g transform="translate(3443,434)"><rect class="b" width="58" height="108"/><text class="n" x="4" y="27">0</text><text class="n" x="4" y="91">1</text><text class="l" x="29" y="52">R<tspan class="s" dy="3">YY</tspan></text><text class="p" x="29" y="69">0.0348</text></g>
<g transform="translate(3443,562)"><rect class="b" width="58" height="108"/><text class="n" x="4" y="27">0</text><text class="n" x="4" y="91">1</text><text class="l" x="29" y="52">R<tspan class="s" dy="3">XX</tspan></text><text class="p" x="29" y="69">0.0308</text></g>
<!-- col 3537 -->
<g transform="translate(3509,50)"><rect class="b" width="56" height="108"/><text class="n" x="4" y="27">0</text><text class="n" x="4" y="91">1</text><text class="l" x="28" y="52">R<tspan class="s" dy="3">XX</tspan></text><text class="p" x="28" y="69">0.035</text></g>
<g transform="translate(3508,178)"><rect class="b" width="58" height="108"/><text class="n" x="4" y="27">0</text><text class="n" x="4" y="91">1</text><text class="l" x="29" y="52">R<tspan class="s" dy="3">XX</tspan></text><text class="p" x="29" y="69">0.0405</text></g>
<g transform="translate(3508,306)"><rect class="b" width="58" height="108"/><text class="n" x="4" y="27">0</text><text class="n" x="4" y="91">1</text><text class="l" x="29" y="52">R<tspan class="s" dy="3">XX</tspan></text><text class="p" x="29" y="69">0.0368</text></g>
<g transform="translate(3508,434)"><rect class="b" width="58" height="108"/><text class="n" x="4" y="27">0</text><text class="n" x="4" y="91">1</text><text class="l" x="29" y="52">R<tspan class="s" dy="3">XX</tspan></text><text class="p" x="29" y="69">0.0348</text></g>
<g transform="translate(3508,562)"><rect class="b" width="58" height="108"/><text class="n" x="4" y="27">0</text><text class="n" x="4" y="91">1</text><text class="l" x="29" y="52">R<tspan class="s" dy="3">XX</tspan></text><text class="p" x="29" y="69">0.0308</text></g>
<!-- col 3601 -->
<g transform="translate(3573,50)"><rect class="b" width="56" height="108"/><text class="n" x="4" y="27">0</text><text class="n" x="4" y="91">1</text><text class="l" x="28" y="52">R<tspan class="s" dy="3">XX</tspan></text><text class="p" x="28" y="69">0.035</text></g>
<g transform="translate(3572,178)"><rect class="b" width="58" height="108"/><text class="n" x="4" y="27">0</text><text class="n" x="4" y="91">1</text><text class="l" x="29" y="52">R<tspan class="s" dy="3">XX</tspan></text><text class="p" x="29" y="69">0.0405</text></g>
<g transform="translate(3572,306)"><rect class="b" width="58" height="108"/><text class="n" x="4" y="27">0</text><text class="n" x="4" y="91">1</text><text class="l" x="29" y="52">R<tspan class="s" dy="3">XX</tspan></text><text class="p" x="29" y="69">0.0368</text></g>
<g transform="translate(3572,434)"><rect class="b" width="58" height="108"/><text class="n" x="4" y="27">0</text><text class="n" x="4" y="91">1</text><text class="l" x="29" y="52">R<tspan class="s" dy="3">XX</tspan></text><text class="p" x="29" y="69">0.0348</text></g>
<g transform="translate(3572,562)"><rect class="b" width="58" height="108"/><text class="n" x="4" y="27">0</text><text class="n" x="4" y="91">1</text><text class="l" x="29" y="52">R<tspan class="s" dy="3">YY</tspan></text><text class="p" x="29" y="69">0.0308</text></g>
<!-- col 3698 -->
<g transform="translate(3672,50)"><rect class="b" width="53" height="108"/><text class="n" x="4" y="27">0</text><text class="n" x="4" y="91">1</text><text class="l" x="26.5" y="52">R<tspan class="s" dy="3">YY</tspan></text><text class="p" x="26.5" y="69">0.035</text></g>
<g transform="translate(3669,178)"><rect class="b" width="58" height="108"/><text class="n" x="4" y="27">0</text><text class="n" x="4" y="91">1</text><text class="l" x="29" y="52">R<tspan class="s" dy="3">YY</tspan></text><text class="p" x="29" y="69">0.0405</text></g>
<g transform="translate(3669,306)"><rect class="b" width="58" height="108"/><text class="n" x="4" y="27">0</text><text class="n" x="4" y="91">1</text><text class="l" x="29" y="52">R<tspan class="s" dy="3">YY</tspan></text><text class="p" x="29" y="69">0.0368</text></g>
<g transform="translate(3669,434)"><rect class="b" width="58" height="108"/><text class="n" x="4" y="27">0</text><text class="n" x="4" y="91">1</text><text class="l" x="29" y="52">R<tspan class="s" dy="3">YY</tspan></text><text class="p" x="29" y="69">0.0348</text></g>
<line class="zz" x1="3698" y1="584" x2="3698" y2="648"/><circle class="zd" cx="3698" cy="584" r="7"/><circle class="zd" cx="3698" cy="648" r="7"/><text class="zl" x="3708" y="620">ZZ (0.0616)</text>
<!-- col 3828 -->
<line class="zz" x1="3828" y1="72" x2="3828" y2="136"/><circle class="zd" cx="3828" cy="72" r="7"/><circle class="zd" cx="3828" cy="136" r="7"/><text class="zl" x="3838" y="108">ZZ (0.0699)</text>
<line class="zz" x1="3828" y1="200" x2="3828" y2="264"/><circle class="zd" cx="3828" cy="200" r="7"/><circle class="zd" cx="3828" cy="264" r="7"/><text class="zl" x="3838" y="236">ZZ (0.081)</text>
<line class="zz" x1="3828" y1="328" x2="3828" y2="392"/><circle class="zd" cx="3828" cy="328" r="7"/><circle class="zd" cx="3828" cy="392" r="7"/><text class="zl" x="3838" y="364">ZZ (0.0735)</text>
<line class="zz" x1="3828" y1="456" x2="3828" y2="520"/><circle class="zd" cx="3828" cy="456" r="7"/><circle class="zd" cx="3828" cy="520" r="7"/><text class="zl" x="3838" y="492">ZZ (0.0697)</text>
<!-- col 3926 -->
<g transform="translate(3897,114)"><rect class="b" width="58" height="108"/><text class="n" x="4" y="27">0</text><text class="n" x="4" y="91">1</text><text class="l" x="29" y="52">R<tspan class="s" dy="3">XX</tspan></text><text class="p" x="29" y="69">0.0382</text></g>
<g transform="translate(3897,242)"><rect class="b" width="58" height="108"/><text class="n" x="4" y="27">0</text><text class="n" x="4" y="91">1</text><text class="l" x="29" y="52">R<tspan class="s" dy="3">XX</tspan></text><text class="p" x="29" y="69">0.0313</text></g>
<g transform="translate(3897,370)"><rect class="b" width="58" height="108"/><text class="n" x="4" y="27">0</text><text class="n" x="4" y="91">1</text><text class="l" x="29" y="52">R<tspan class="s" dy="3">XX</tspan></text><text class="p" x="29" y="69">0.0464</text></g>
<g transform="translate(3897,498)"><rect class="b" width="58" height="108"/><text class="n" x="4" y="27">0</text><text class="n" x="4" y="91">1</text><text class="l" x="29" y="52">R<tspan class="s" dy="3">XX</tspan></text><text class="p" x="29" y="69">0.0488</text></g>
<!-- col 3992 -->
<g transform="translate(3963,114)"><rect class="b" width="58" height="108"/><text class="n" x="4" y="27">0</text><text class="n" x="4" y="91">1</text><text class="l" x="29" y="52">R<tspan class="s" dy="3">YY</tspan></text><text class="p" x="29" y="69">0.0382</text></g>
<g transform="translate(3963,242)"><rect class="b" width="58" height="108"/><text class="n" x="4" y="27">0</text><text class="n" x="4" y="91">1</text><text class="l" x="29" y="52">R<tspan class="s" dy="3">YY</tspan></text><text class="p" x="29" y="69">0.0313</text></g>
<g transform="translate(3963,370)"><rect class="b" width="58" height="108"/><text class="n" x="4" y="27">0</text><text class="n" x="4" y="91">1</text><text class="l" x="29" y="52">R<tspan class="s" dy="3">YY</tspan></text><text class="p" x="29" y="69">0.0464</text></g>
<g transform="translate(3963,498)"><rect class="b" width="58" height="108"/><text class="n" x="4" y="27">0</text><text class="n" x="4" y="91">1</text><text class="l" x="29" y="52">R<tspan class="s" dy="3">YY</tspan></text><text class="p" x="29" y="69">0.0488</text></g>
<!-- col 4090 -->
<line class="zz" x1="4090" y1="136" x2="4090" y2="200"/><circle class="zd" cx="4090" cy="136" r="7"/><circle class="zd" cx="4090" cy="200" r="7"/><text class="zl" x="4100" y="172">ZZ (0.0764)</text>
<line class="zz" x1="4090" y1="264" x2="4090" y2="328"/><circle class="zd" cx="4090" cy="264" r="7"/><circle class="zd" cx="4090" cy="328" r="7"/><text class="zl" x="4100" y="300">ZZ (0.0625)</text>
<line class="zz" x1="4090" y1="392" x2="4090" y2="456"/><circle class="zd" cx="4090" cy="392" r="7"/><circle class="zd" cx="4090" cy="456" r="7"/><text class="zl" x="4100" y="428">ZZ (0.0928)</text>
<line class="zz" x1="4090" y1="520" x2="4090" y2="584"/><circle class="zd" cx="4090" cy="520" r="7"/><circle class="zd" cx="4090" cy="584" r="7"/><text class="zl" x="4100" y="556">ZZ (0.195)</text>
<!-- col 4220 -->
<line class="zz" x1="4220" y1="136" x2="4220" y2="200"/><circle class="zd" cx="4220" cy="136" r="7"/><circle class="zd" cx="4220" cy="200" r="7"/><text class="zl" x="4230" y="172">ZZ (0.0764)</text>
<line class="zz" x1="4220" y1="264" x2="4220" y2="328"/><circle class="zd" cx="4220" cy="264" r="7"/><circle class="zd" cx="4220" cy="328" r="7"/><text class="zl" x="4230" y="300">ZZ (0.0625)</text>
<line class="zz" x1="4220" y1="392" x2="4220" y2="456"/><circle class="zd" cx="4220" cy="392" r="7"/><circle class="zd" cx="4220" cy="456" r="7"/><text class="zl" x="4230" y="428">ZZ (0.0928)</text>
<g transform="translate(4191,498)"><rect class="b" width="58" height="108"/><text class="n" x="4" y="27">0</text><text class="n" x="4" y="91">1</text><text class="l" x="29" y="52">R<tspan class="s" dy="3">YY</tspan></text><text class="p" x="29" y="69">0.0488</text></g>
<!-- col 4318 -->
<g transform="translate(4289,114)"><rect class="b" width="58" height="108"/><text class="n" x="4" y="27">0</text><text class="n" x="4" y="91">1</text><text class="l" x="29" y="52">R<tspan class="s" dy="3">YY</tspan></text><text class="p" x="29" y="69">0.0382</text></g>
<g transform="translate(4289,242)"><rect class="b" width="58" height="108"/><text class="n" x="4" y="27">0</text><text class="n" x="4" y="91">1</text><text class="l" x="29" y="52">R<tspan class="s" dy="3">YY</tspan></text><text class="p" x="29" y="69">0.0313</text></g>
<g transform="translate(4289,370)"><rect class="b" width="58" height="108"/><text class="n" x="4" y="27">0</text><text class="n" x="4" y="91">1</text><text class="l" x="29" y="52">R<tspan class="s" dy="3">YY</tspan></text><text class="p" x="29" y="69">0.0464</text></g>
<g transform="translate(4289,498)"><rect class="b" width="58" height="108"/><text class="n" x="4" y="27">0</text><text class="n" x="4" y="91">1</text><text class="l" x="29" y="52">R<tspan class="s" dy="3">XX</tspan></text><text class="p" x="29" y="69">0.0488</text></g>
<!-- col 4416 -->
<g transform="translate(4387,114)"><rect class="b" width="58" height="108"/><text class="n" x="4" y="27">0</text><text class="n" x="4" y="91">1</text><text class="l" x="29" y="52">R<tspan class="s" dy="3">XX</tspan></text><text class="p" x="29" y="69">0.0382</text></g>
<g transform="translate(4387,242)"><rect class="b" width="58" height="108"/><text class="n" x="4" y="27">0</text><text class="n" x="4" y="91">1</text><text class="l" x="29" y="52">R<tspan class="s" dy="3">XX</tspan></text><text class="p" x="29" y="69">0.0313</text></g>
<g transform="translate(4387,370)"><rect class="b" width="58" height="108"/><text class="n" x="4" y="27">0</text><text class="n" x="4" y="91">1</text><text class="l" x="29" y="52">R<tspan class="s" dy="3">XX</tspan></text><text class="p" x="29" y="69">0.0464</text></g>
<line class="zz" x1="4416" y1="584" x2="4416" y2="648"/><circle class="zd" cx="4416" cy="584" r="7"/><circle class="zd" cx="4416" cy="648" r="7"/><text class="zl" x="4426" y="620">ZZ (0.0616)</text>
<!-- col 4546 -->
<line class="zz" x1="4546" y1="72" x2="4546" y2="136"/><circle class="zd" cx="4546" cy="72" r="7"/><circle class="zd" cx="4546" cy="136" r="7"/><text class="zl" x="4556" y="108">ZZ (0.0699)</text>
<line class="zz" x1="4546" y1="200" x2="4546" y2="264"/><circle class="zd" cx="4546" cy="200" r="7"/><circle class="zd" cx="4546" cy="264" r="7"/><text class="zl" x="4556" y="236">ZZ (0.081)</text>
<line class="zz" x1="4546" y1="328" x2="4546" y2="392"/><circle class="zd" cx="4546" cy="328" r="7"/><circle class="zd" cx="4546" cy="392" r="7"/><text class="zl" x="4556" y="364">ZZ (0.0735)</text>
<line class="zz" x1="4546" y1="456" x2="4546" y2="520"/><circle class="zd" cx="4546" cy="456" r="7"/><circle class="zd" cx="4546" cy="520" r="7"/><text class="zl" x="4556" y="492">ZZ (0.0697)</text>
<g transform="translate(4518,562)"><rect class="b" width="58" height="108"/><text class="n" x="4" y="27">0</text><text class="n" x="4" y="91">1</text><text class="l" x="29" y="52">R<tspan class="s" dy="3">YY</tspan></text><text class="p" x="29" y="69">0.0308</text></g>
<!-- col 4644 -->
<g transform="translate(4618,50)"><rect class="b" width="53" height="108"/><text class="n" x="4" y="27">0</text><text class="n" x="4" y="91">1</text><text class="l" x="26.5" y="52">R<tspan class="s" dy="3">YY</tspan></text><text class="p" x="26.5" y="69">0.035</text></g>
<g transform="translate(4615,178)"><rect class="b" width="58" height="108"/><text class="n" x="4" y="27">0</text><text class="n" x="4" y="91">1</text><text class="l" x="29" y="52">R<tspan class="s" dy="3">YY</tspan></text><text class="p" x="29" y="69">0.0405</text></g>
<g transform="translate(4615,306)"><rect class="b" width="58" height="108"/><text class="n" x="4" y="27">0</text><text class="n" x="4" y="91">1</text><text class="l" x="29" y="52">R<tspan class="s" dy="3">YY</tspan></text><text class="p" x="29" y="69">0.0368</text></g>
<g transform="translate(4615,434)"><rect class="b" width="58" height="108"/><text class="n" x="4" y="27">0</text><text class="n" x="4" y="91">1</text><text class="l" x="29" y="52">R<tspan class="s" dy="3">YY</tspan></text><text class="p" x="29" y="69">0.0348</text></g>
<g transform="translate(4615,562)"><rect class="b" width="58" height="108"/><text class="n" x="4" y="27">0</text><text class="n" x="4" y="91">1</text><text class="l" x="29" y="52">R<tspan class="s" dy="3">XX</tspan></text><text class="p" x="29" y="69">0.0308</text></g>
<!-- col 4709 -->
<g transform="translate(4681,50)"><rect class="b" width="56" height="108"/><text class="n" x="4" y="27">0</text><text class="n" x="4" y="91">1</text><text class="l" x="28" y="52">R<tspan class="s" dy="3">XX</tspan></text><text class="p" x="28" y="69">0.035</text></g>
<g transform="translate(4680,178)"><rect class="b" width="58" height="108"/><text class="n" x="4" y="27">0</text><text class="n" x="4" y="91">1</text><text class="l" x="29" y="52">R<tspan class="s" dy="3">XX</tspan></text><text class="p" x="29" y="69">0.0405</text></g>
<g transform="translate(4680,306)"><rect class="b" width="58" height="108"/><text class="n" x="4" y="27">0</text><text class="n" x="4" y="91">1</text><text class="l" x="29" y="52">R<tspan class="s" dy="3">XX</tspan></text><text class="p" x="29" y="69">0.0368</text></g>
<g transform="translate(4680,434)"><rect class="b" width="58" height="108"/><text class="n" x="4" y="27">0</text><text class="n" x="4" y="91">1</text><text class="l" x="29" y="52">R<tspan class="s" dy="3">XX</tspan></text><text class="p" x="29" y="69">0.0348</text></g>
</svg>
</body></html>
